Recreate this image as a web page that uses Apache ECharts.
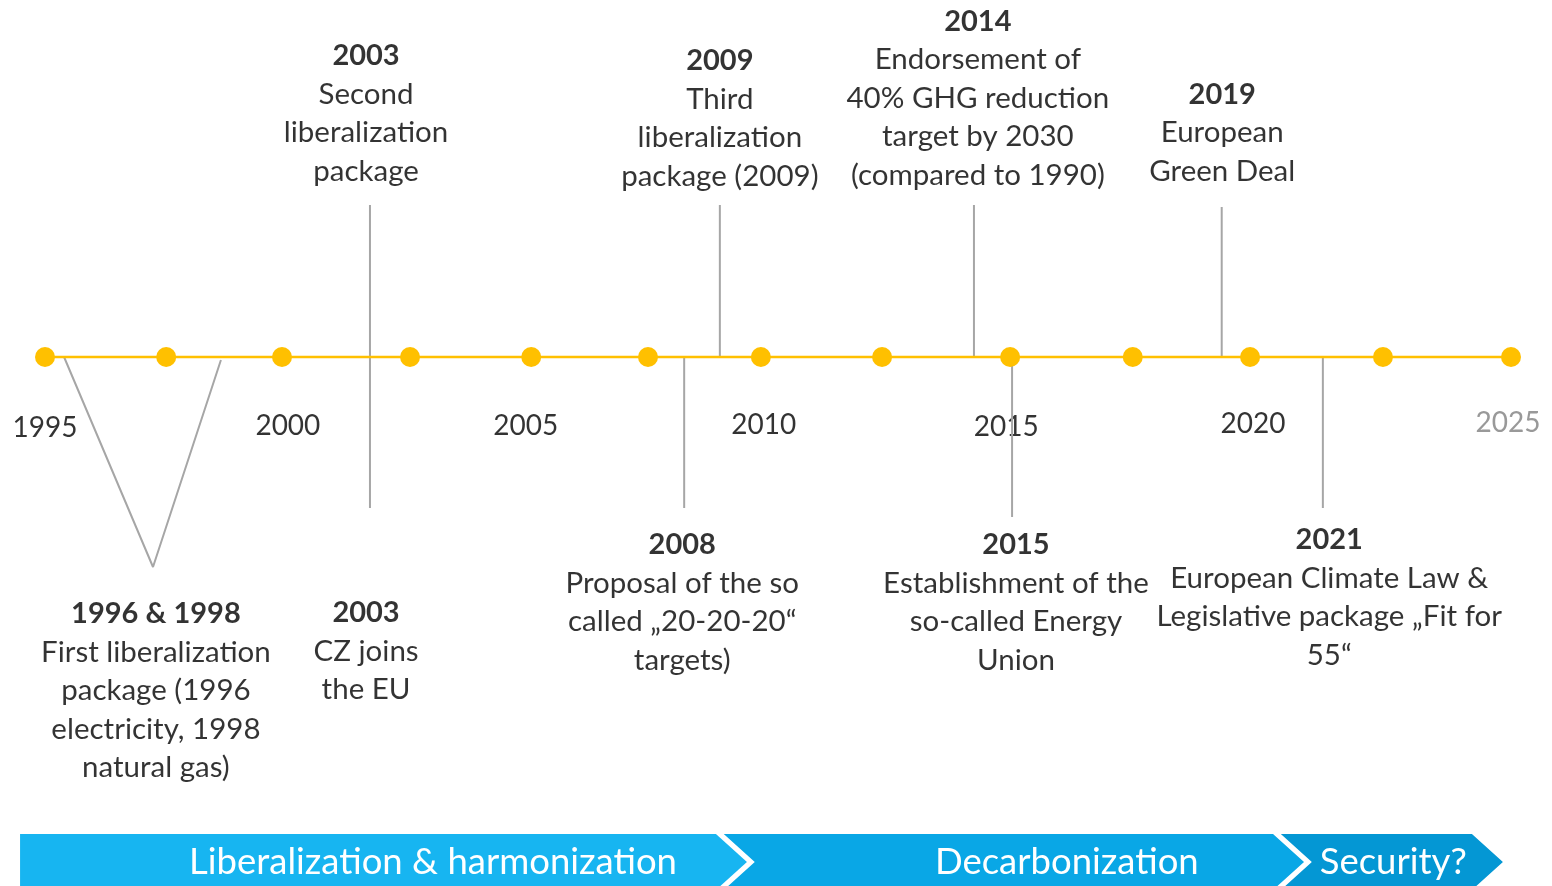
<!DOCTYPE html>
<html>
<head>
<meta charset="utf-8">
<script src="https://cdn.jsdelivr.net/npm/echarts@6/dist/echarts.min.js"></script>
<style>
  html, body { margin: 0; padding: 0; background: #fff; }
  #main { width: 1552px; height: 886px; }
</style>
</head>
<body>
<div id="main"></div>
<script>
// timeline dots (years as placed on the line)
var dotYears = [1995, 1997.48, 1999.85, 2002.47, 2004.95, 2007.34, 2009.65, 2012.13, 2014.75, 2017.26, 2019.66, 2022.38, 2025];

// year tick labels under the line
var yearTicks = ['1995', '2000', '2005', '2010', '2015', '2020', '2025'];
var yearTickPos = [1995, 1999.97, 2004.84, 2009.71, 2014.67, 2019.72, 2024.94];
var yearTickY = [-71, -69, -69, -68, -70, -67, -66];

// events: title, text lines, side of the line, anchor (year, offset)
var eventTitles = ['2003', '2009', '2014', '2019', '1996 & 1998', '2003', '2008', '2015', '2021'];
var eventLines = [
  ['Second', 'liberalization', 'package'],
  ['Third', 'liberalization', 'package (2009)'],
  ['Endorsement of', '40% GHG reduction', 'target by 2030', '(compared to 1990)'],
  ['European', 'Green Deal'],
  ['First liberalization', 'package (1996', 'electricity, 1998', 'natural gas)'],
  ['CZ joins', 'the EU'],
  ['Proposal of the so', 'called \u201e20-20-20\u201c', 'targets)'],
  ['Establishment of the', 'so-called Energy', 'Union'],
  ['European Climate Law &', 'Legislative package \u201eFit for', '55\u201c']
];
var eventSide = ['top', 'top', 'top', 'top', 'bottom', 'bottom', 'bottom', 'bottom', 'bottom'];
var eventX = [2001.57, 2008.81, 2014.09, 2019.09, 1997.27, 2001.57, 2008.04, 2014.87, 2021.28];
var eventY = [166, 161, 162, 166, -237, -236, -168, -168, -163];

// grey connectors from the line to the texts
var connectors = [
  [[1995.39, 0], [1997.21, -210], [1998.6, -3]],
  [[2001.65, 152], [2001.65, -151]],
  [[2008.08, 0], [2008.08, -151]],
  [[2008.81, 152], [2008.81, 0]],
  [[2014.01, 152], [2014.01, 0]],
  [[2014.79, 0], [2014.79, -160]],
  [[2019.08, 150], [2019.08, 0]],
  [[2021.15, 0], [2021.15, -151]]
];

// phases in the bottom banner
var phaseNames = ['Liberalization & harmonization', 'Decarbonization', 'Security?'];
var phaseStart = [1994.49, 2008.89, 2020.29];
var phaseEnd = [2008.73, 2020.13, 2024.2];
var phaseLabelX = [2002.94, 2015.91, 2022.59];
var phaseColors = ['#17b5f1', '#09a7e6', '#0497d4'];

var FONT = 'Lato, "Open Sans", sans-serif';

var myChart = echarts.init(document.getElementById('main'));

var series = [];

series.push({
  type: 'line',
  data: dotYears.map(function (y) { return [y, 0]; }),
  symbol: 'circle',
  symbolSize: 20,
  lineStyle: { color: '#ffc000', width: 2.5 },
  itemStyle: { color: '#ffc000' },
  z: 5
});

connectors.forEach(function (c) {
  series.push({
    type: 'line',
    data: c,
    symbol: 'none',
    lineStyle: { color: '#a6a6a6', width: 2 },
    z: 3
  });
});

series.push({
  type: 'scatter',
  symbolSize: 1,
  itemStyle: { color: 'rgba(0,0,0,0)' },
  data: yearTicks.map(function (t, i) {
    return {
      value: [yearTickPos[i], yearTickY[i]],
      label: {
        show: true,
        position: 'inside',
        formatter: t,
        fontSize: 28,
        fontFamily: FONT,
        color: i === yearTicks.length - 1 ? '#808080' : '#000'
      }
    };
  })
});

series.push({
  type: 'scatter',
  symbolSize: 1,
  itemStyle: { color: 'rgba(0,0,0,0)' },
  data: eventTitles.map(function (t, i) {
    var txt = '{y|' + t + '}\n' + eventLines[i].map(function (l) { return '{t|' + l + '}'; }).join('\n');
    return {
      value: [eventX[i], eventY[i]],
      label: {
        show: true,
        position: eventSide[i],
        distance: 0,
        align: 'center',
        formatter: txt,
        rich: {
          y: { fontSize: 29, fontWeight: 'bold', fontFamily: FONT, color: '#000', lineHeight: 38.5, align: 'center' },
          t: { fontSize: 29.5, fontFamily: FONT, color: '#000', lineHeight: 38.5, align: 'center' }
        }
      }
    };
  })
});

series.push({
  type: 'custom',
  data: phaseNames.map(function (n, i) { return [phaseStart[i], phaseEnd[i], phaseLabelX[i], i]; }),
  renderItem: function (params, api) {
    var i = api.value(3);
    var x0 = api.coord([api.value(0), 0])[0];
    var x1 = api.coord([api.value(1), 0])[0];
    var xl = api.coord([api.value(2), 0])[0];
    var top = api.coord([0, -477])[1];
    var bot = top + 56;
    var mid = top + 28;
    var d = 31;
    var pts = [[x0, top], [x1, top], [x1 + d, mid], [x1, bot], [x0, bot]];
    if (i > 0) pts.push([x0 + d, mid]);
    return {
      type: 'group',
      children: [
        { type: 'polygon', shape: { points: pts }, style: { fill: phaseColors[i] } },
        {
          type: 'text',
          x: xl, y: mid,
          style: {
            text: phaseNames[i], fill: '#fff', fontSize: 36.5, fontFamily: FONT,
            align: 'center', verticalAlign: 'middle'
          }
        }
      ]
    };
  }
});

var option = {
  animation: false,
  grid: { left: 45, right: 41, top: 0, bottom: 0 },
  xAxis: { type: 'value', min: 1995, max: 2025, show: false },
  yAxis: { type: 'value', min: -529, max: 357, show: false },
  series: series
};

myChart.setOption(option);
</script>
</body>
</html>
